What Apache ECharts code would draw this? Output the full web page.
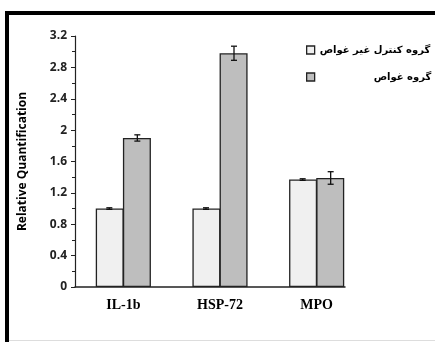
<!DOCTYPE html>
<html><head><meta charset="utf-8">
<script src="https://cdn.jsdelivr.net/npm/echarts@6/dist/echarts.min.js"></script>
<style>html,body{margin:0;padding:0;background:#fff;}#c{width:435px;height:342px;}</style>
</head><body><div id="c"></div>
<script>
var categories = ['IL-1b', 'HSP-72', 'MPO'];
var seriesNames = ['گروه کنترل غیر غواص', 'گروه غواص'];
var controlValues = [1.0, 1.0, 1.37];
var controlErrors = [0.01, 0.01, 0.01];
var diverValues = [1.9, 2.98, 1.39];
var diverErrors = [0.04, 0.09, 0.08];
var yTicks = [0, 0.4, 0.8, 1.2, 1.6, 2, 2.4, 2.8, 3.2];

var chart = echarts.init(document.getElementById('c'));
var BW = 28;
function errData(vals, errs) {
  return vals.map(function (v, i) { return [i, v - errs[i], v + errs[i]]; });
}
function errRender(offset) {
  return function (params, api) {
    var i = api.value(0);
    var lo = api.coord([i, api.value(1)]);
    var hi = api.coord([i, api.value(2)]);
    var x = lo[0] + offset;
    var cap = 3;
    var st = { stroke: '#111', lineWidth: 1.3 };
    return { type: 'group', children: [
      { type: 'line', shape: { x1: x, y1: lo[1], x2: x, y2: hi[1] }, style: st },
      { type: 'line', shape: { x1: x - cap, y1: lo[1], x2: x + cap, y2: lo[1] }, style: st },
      { type: 'line', shape: { x1: x - cap, y1: hi[1], x2: x + cap, y2: hi[1] }, style: st }
    ]};
  };
}
function legendCfg(name, top, padLeft) {
  return {
    orient: 'vertical', left: 301, top: top,
    itemWidth: 8, itemHeight: 8, icon: 'rect',
    data: [name],
    itemStyle: { borderColor: '#222', borderWidth: 1.3 },
    textStyle: { fontFamily: 'DejaVu Sans', fontWeight: 'bold', fontSize: 10, color: '#000',
      padding: [0, 0, 0, padLeft] }
  };
}
var option = {
  animation: false,
  backgroundColor: '#fff',
  grid: [
    { left: 75, width: 290, top: 36, bottom: 55 },
    { left: 75, width: 270, top: 36, bottom: 55 }
  ],
  legend: [legendCfg(seriesNames[0], 40, 0), legendCfg(seriesNames[1], 67, 54)],
  xAxis: [
    { type: 'category', gridIndex: 0, data: categories,
      axisLine: { show: false }, axisTick: { show: false },
      axisLabel: { fontFamily: 'Liberation Serif', fontWeight: 'bold', fontSize: 14, color: '#000', margin: 11 } },
    { type: 'value', gridIndex: 1, min: 0, max: 1,
      axisLine: { show: true, lineStyle: { color: '#222', width: 1.5 } },
      axisTick: { show: false }, axisLabel: { show: false }, splitLine: { show: false } }
  ],
  yAxis: [
    { type: 'value', gridIndex: 0, min: 0, max: 3.2, interval: 0.4,
      name: 'Relative Quantification', nameLocation: 'middle', nameGap: 46,
      nameTextStyle: { fontFamily: 'Open Sans', fontWeight: 'bold', fontSize: 12, color: '#000' },
      axisLine: { show: true, lineStyle: { color: '#222', width: 1.2 } },
      axisTick: { show: true, length: 4, lineStyle: { color: '#222' } },
      minorTick: { show: true, splitNumber: 2, length: 3, lineStyle: { color: '#222' } },
      splitLine: { show: false },
      axisLabel: { fontFamily: 'Open Sans', fontWeight: 'bold', fontSize: 12, color: '#222', margin: 8,
        formatter: function (v) { var s = String(Math.round(v * 10) / 10); return yTicks.indexOf(Number(s)) >= 0 ? s : ''; } } },
    { type: 'value', gridIndex: 1, show: false, min: 0, max: 1 }
  ],
  series: [
    { name: seriesNames[0], type: 'bar', xAxisIndex: 0, yAxisIndex: 0, data: controlValues,
      barWidth: BW, barGap: '-3%',
      itemStyle: { color: '#f0f0f0', borderColor: '#222', borderWidth: 1.3 } },
    { name: seriesNames[1], type: 'bar', xAxisIndex: 0, yAxisIndex: 0, data: diverValues,
      barWidth: BW, barGap: '-3%',
      itemStyle: { color: '#bebebe', borderColor: '#222', borderWidth: 1.3 } },
    { type: 'custom', xAxisIndex: 0, yAxisIndex: 0, data: errData(controlValues, controlErrors),
      renderItem: errRender(-BW / 2), z: 5, silent: true },
    { type: 'custom', xAxisIndex: 0, yAxisIndex: 0, data: errData(diverValues, diverErrors),
      renderItem: errRender(BW / 2), z: 5, silent: true }
  ],
  graphic: [
    { type: 'line', shape: { x1: 7, y1: 13, x2: 435, y2: 13 }, style: { stroke: '#000', lineWidth: 4 } },
    { type: 'line', shape: { x1: 7, y1: 11, x2: 7, y2: 342 }, style: { stroke: '#000', lineWidth: 4 } },
    { type: 'line', shape: { x1: 9, y1: 340.5, x2: 435, y2: 340.5 }, style: { stroke: '#ddd', lineWidth: 1 } }
  ]
};
chart.setOption(option);
</script></body></html>
